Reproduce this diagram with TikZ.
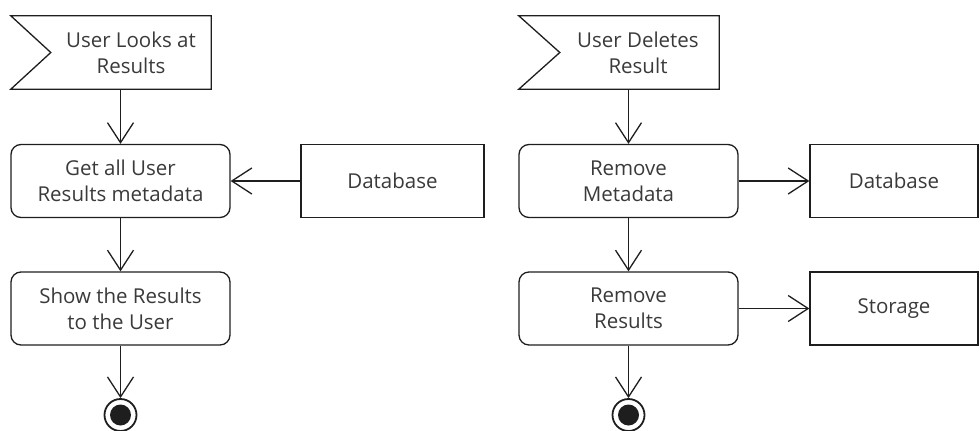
\documentclass[tikz,border=0pt]{standalone}
\usepackage{fontspec}
\setmainfont{Open Sans}
\usetikzlibrary{arrows.meta}
\definecolor{ink}{HTML}{1E1E1E}
\definecolor{txt}{HTML}{3A3A3A}
\tikzset{
  base/.style={draw=ink, line width=1.3pt, inner sep=0pt, align=center,
    text=txt, font=\fontsize{20.5}{26}\selectfont},
  action/.style={base, rounded corners=10pt, minimum width=219pt, minimum height=73pt},
  store/.style={base, minimum height=73pt},
  evframe/.style={inner sep=0pt, minimum width=200pt, minimum height=73pt},
  evlabel/.style={text=txt, align=center, font=\fontsize{20.5}{26}\selectfont},
  final/.style={circle, draw=ink, line width=1.8pt, minimum size=32pt, inner sep=0pt,
    path picture={\fill[ink] (path picture bounding box.center) circle (10.5pt);}},
  flow/.style={draw=ink, line width=1.3pt, -{Straight Barb[length=20pt,width=26pt,line width=1.3pt]}}
}
\begin{document}
\begin{tikzpicture}[x=1pt, y=-1pt]
\useasboundingbox (0,0) rectangle (980,431);

% --- left activity: viewing results ---
\node[evframe, label={[evlabel, xshift=20pt]center:User Looks at\\Results}] (ev1) at (111,52.5) {};
\draw[ink, line width=1.3pt, line join=miter]
  (ev1.north west) -- (ev1.north east) -- (ev1.south east) -- (ev1.south west)
  -- ([xshift=40pt]ev1.west) -- cycle;
\node[action] (get) at (120.5,181) {Get all User\\Results metadata};
\node[store, minimum width=183pt] (db1) at (392.5,181) {Database};
\node[action] (show) at (120.5,308.5) {Show the Results\\to the User};
\node[final] (end1) at (120.5,415) {};

\draw[flow] (ev1.south -| get.north) -- (get.north);
\draw[flow] (db1.west) -- (get.east);
\draw[flow] (get) -- (show);
\draw[flow] (show) -- (end1);

% --- right activity: deleting a result ---
\node[evframe, label={[evlabel, xshift=19pt]center:User Deletes\\Result}] (ev2) at (619,52.5) {};
\draw[ink, line width=1.3pt, line join=miter]
  (ev2.north west) -- (ev2.north east) -- (ev2.south east) -- (ev2.south west)
  -- ([xshift=41pt]ev2.west) -- cycle;
\node[action] (rmmeta) at (628.5,181) {Remove\\Metadata};
\node[store, minimum width=168pt] (db2) at (894,181) {Database};
\node[action] (rmres) at (628.5,308.5) {Remove\\Results};
\node[store, minimum width=168pt] (stor) at (894,308.5) {Storage};
\node[final] (end2) at (628.5,415) {};

\draw[flow] (ev2.south -| rmmeta.north) -- (rmmeta.north);
\draw[flow] (rmmeta.east) -- (db2.west);
\draw[flow] (rmmeta) -- (rmres);
\draw[flow] (rmres.east) -- (stor.west);
\draw[flow] (rmres) -- (end2);
\end{tikzpicture}
\end{document}
